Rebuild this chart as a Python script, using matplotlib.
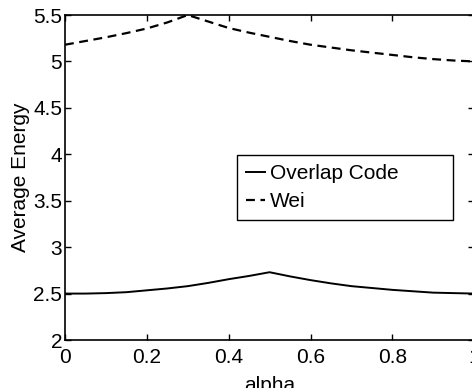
import matplotlib
matplotlib.use('Agg')

import matplotlib.pyplot as plt

plt.rcParams['font.family'] = ['Liberation Sans', 'DejaVu Sans']

alpha = [0.0, 0.05, 0.1, 0.15, 0.2, 0.25, 0.3, 0.35, 0.4, 0.45, 0.5,
         0.55, 0.6, 0.65, 0.7, 0.75, 0.8, 0.85, 0.9, 0.95, 1.0]
overlap = [2.50, 2.50, 2.505, 2.515, 2.535, 2.555, 2.58, 2.615, 2.655, 2.69, 2.73,
           2.685, 2.645, 2.61, 2.58, 2.56, 2.54, 2.525, 2.51, 2.505, 2.50]
wei = [5.18, 5.22, 5.26, 5.305, 5.355, 5.42, 5.50, 5.43, 5.36, 5.31, 5.265,
       5.22, 5.18, 5.15, 5.12, 5.095, 5.07, 5.045, 5.025, 5.01, 5.00]

fs = 15

fig = plt.figure(figsize=(4.72, 3.88), dpi=100)
ax = fig.add_axes([0.1377, 0.1237, 0.867, 0.8376])

ax.plot(alpha, overlap, 'k-', lw=1.4, label='Overlap Code')
ax.plot(alpha, wei, 'k--', lw=1.6, dashes=(4, 2.5), label='Wei')

ax.set_xlim(0, 1)
ax.set_ylim(2, 5.5)
ax.set_xticks([0, 0.2, 0.4, 0.6, 0.8, 1])
ax.set_xticklabels(['0', '0.2', '0.4', '0.6', '0.8', '1'])
ax.set_yticks([2, 2.5, 3, 3.5, 4, 4.5, 5, 5.5])
ax.set_yticklabels(['2', '2.5', '3', '3.5', '4', '4.5', '5', '5.5'])
ax.tick_params(direction='in', top=True, right=True, length=4, width=1,
               labelsize=fs, colors='black')
ax.tick_params(axis='x', pad=5.5)
ax.tick_params(axis='y', pad=2)
for s in ax.spines.values():
    s.set_linewidth(1.2)

ax.set_xlabel('alpha', fontsize=fs)
ax.set_ylabel('Average Energy', fontsize=fs)
ax.xaxis.set_label_coords(0.5, -0.112)
ax.yaxis.set_label_coords(-0.085, 0.5)

leg = ax.legend(loc='upper left', bbox_to_anchor=(0.42, 0.569, 0.528, 0.0),
                mode='expand', borderaxespad=0, fontsize=fs, fancybox=False,
                handlelength=0.9, handletextpad=0.25, borderpad=0.45,
                labelspacing=0.4, framealpha=1)
leg.get_frame().set_edgecolor('black')
leg.get_frame().set_linewidth(1.0)

fig.savefig('out.png', dpi=100)
